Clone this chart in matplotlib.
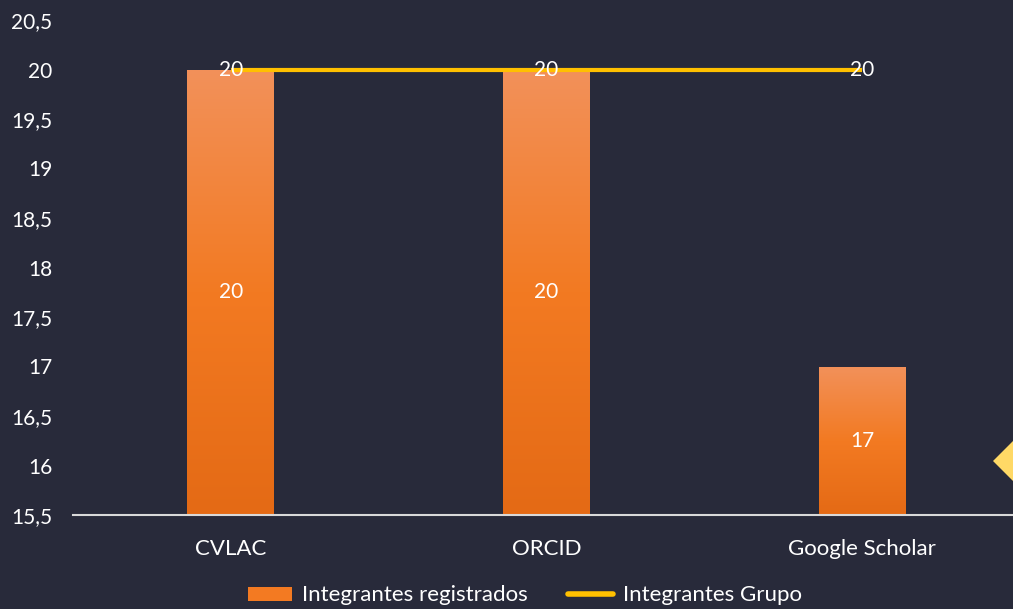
import numpy as np
import matplotlib.pyplot as plt
from matplotlib.patches import Polygon
from matplotlib.lines import Line2D
from matplotlib.colors import LinearSegmentedColormap

categorias = ['CVLAC', 'ORCID', 'Google Scholar']
registrados = [20, 20, 17]
grupo = [20, 20, 20]
yticks = [15.5, 16, 16.5, 17, 17.5, 18, 18.5, 19, 19.5, 20, 20.5]

bg = '#282a3a'
plt.rcParams['font.family'] = ['Lato', 'DejaVu Sans']

fig = plt.figure(figsize=(10.13, 6.09), dpi=100)
fig.patch.set_facecolor(bg)
ax = fig.add_axes([73 / 1013, (609 - 515) / 609, 947 / 1013, 495 / 609])
ax.set_facecolor(bg)

x = np.arange(len(categorias))
ancho = 0.275
ymin = 15.5
cmap = LinearSegmentedColormap.from_list('naranja', ['#e46a15', '#f37a22', '#f2915a'])
grad = np.linspace(0, 1, 256).reshape(-1, 1)
barras = ax.bar(x, np.array(registrados) - ymin, ancho, bottom=ymin, color='#f37a22', zorder=2)
for b in barras:
    x0, y0 = b.get_x(), b.get_y()
    w, h = b.get_width(), b.get_height()
    im = ax.imshow(grad, extent=[x0, x0 + w, y0, y0 + h], origin='lower', cmap=cmap,
                   aspect='auto', zorder=2.1)
    im.set_clip_path(b)

ax.plot(x, grupo, color='#ffc000', linewidth=3, zorder=3, solid_capstyle='butt')

for xi, v in zip(x, registrados):
    ax.text(xi, (ymin + v) / 2, str(v), ha='center', va='center', color='white', fontsize=15, zorder=4)
for xi, v in zip(x, grupo):
    ax.text(xi, v, str(v), ha='center', va='center', color='white', fontsize=15, zorder=4)

ax.set_xlim(-0.5, 2.5)
ax.set_ylim(15.5, 20.5)
ax.set_yticks(yticks)
ax.set_yticklabels([('%g' % t).replace('.', ',') for t in yticks])
ax.set_xticks(x)
ax.set_xticklabels(categorias)
ax.tick_params(axis='both', length=0, colors='white', labelsize=15)
ax.tick_params(axis='x', labelsize=16, pad=17)
ax.tick_params(axis='y', pad=15)
for s in ['top', 'right', 'left']:
    ax.spines[s].set_visible(False)
ax.spines['bottom'].set_color('#d9d9d9')
ax.spines['bottom'].set_linewidth(1.5)

# decoracion de la esquina
fig.patches.append(Polygon([[993 / 1013, 1 - 461 / 609], [1018 / 1013, 1 - 436 / 609],
                            [1043 / 1013, 1 - 461 / 609], [1018 / 1013, 1 - 486 / 609]],
                           closed=True, transform=fig.transFigure, facecolor='#ffd966',
                           edgecolor='none', figure=fig))

handles = [plt.Rectangle((0, 0), 1, 1, facecolor='#f37a22'),
           Line2D([0], [0], color='#ffc000', linewidth=4, solid_capstyle='round')]
fig.legend(handles, ['Integrantes registrados', 'Integrantes Grupo'], loc='lower center',
           bbox_to_anchor=(0.518, -0.027), ncol=2, frameon=False, fontsize=16,
           labelcolor='white', handlelength=2.0, handleheight=0.6, handletextpad=0.45,
           columnspacing=1.8)

fig.savefig('out.png', dpi=100, facecolor=bg)
